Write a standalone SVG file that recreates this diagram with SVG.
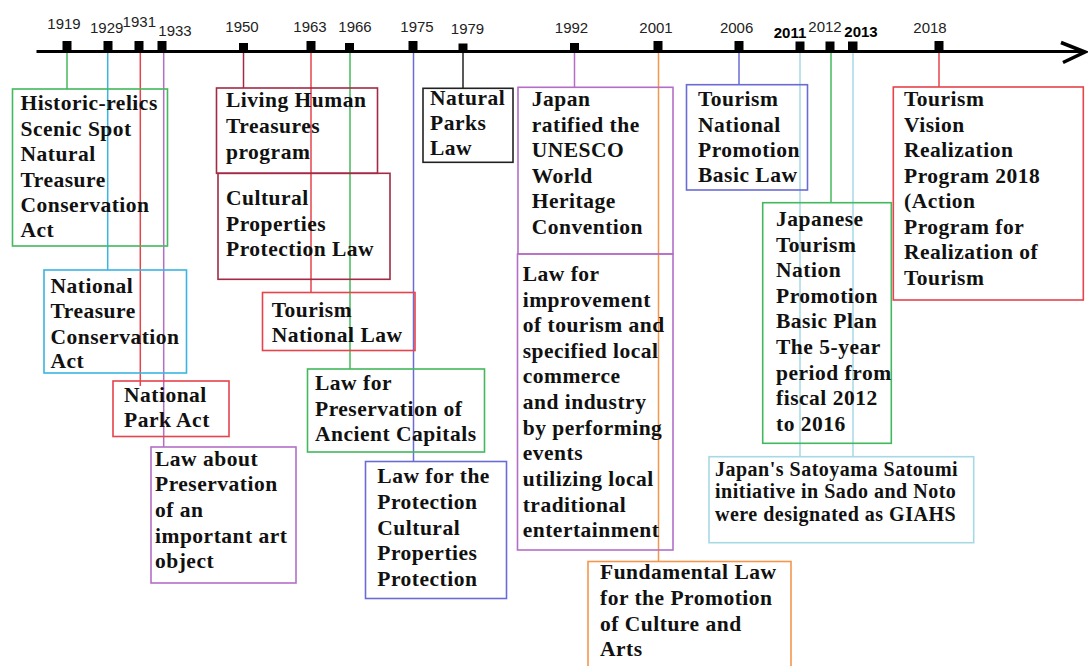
<svg xmlns="http://www.w3.org/2000/svg" width="1088" height="666" viewBox="0 0 1088 666">
<style>
.bg{fill:#fff}
.axis{stroke:#000;stroke-width:3;fill:none}
.tick{fill:#000}
.yr{font-family:"Liberation Sans",Arial,sans-serif;font-size:15px;fill:#222;text-anchor:middle}
.yb{font-weight:bold;fill:#000}
.c{stroke-width:1.5;fill:none}
.box{fill:none;stroke-width:1.6}
.t{font-family:"Liberation Serif","Times New Roman",serif;font-weight:bold;font-size:21.5px;letter-spacing:0.5px;fill:#111}
.ts{font-size:20px}
.green{stroke:#43b85c}
.cyan{stroke:#3ab4e2}
.red{stroke:#e6434b}
.purple{stroke:#b46ec6}
.maroon{stroke:#a32a44}
.blue{stroke:#6b6bd6}
.black{stroke:#222}
.orange{stroke:#f4964c}
.lblue{stroke:#a6d9e4}
</style>
<rect class="bg" x="0" y="0" width="1088" height="666"/>
<g id="connectors">
<line class="c green" x1="67" y1="52" x2="67" y2="89"/>
<line class="c cyan" x1="107.7" y1="52" x2="107.7" y2="270"/>
<line class="c red" x1="140.3" y1="52" x2="140.3" y2="386"/>
<line class="c purple" x1="163.7" y1="52" x2="163.7" y2="447"/>
<line class="c maroon" x1="243.5" y1="52" x2="243.5" y2="88"/>
<line class="c red" x1="311" y1="52" x2="311" y2="292.5"/>
<line class="c green" x1="350" y1="52" x2="350" y2="369"/>
<line class="c blue" x1="413.5" y1="52" x2="413.5" y2="461.5"/>
<line class="c black" x1="463" y1="52" x2="463" y2="88"/>
<line class="c purple" x1="574.5" y1="52" x2="574.5" y2="87"/>
<line class="c orange" x1="658.5" y1="52" x2="658.5" y2="561.5"/>
<line class="c blue" x1="739" y1="52" x2="739" y2="84.7"/>
<line class="c lblue" x1="800" y1="52" x2="800" y2="456.7"/>
<line class="c green" x1="831" y1="52" x2="831" y2="202.7"/>
<line class="c lblue" x1="853" y1="52" x2="853" y2="456.7"/>
<line class="c red" x1="939" y1="52" x2="939" y2="87"/>
</g>
<g id="timeline">
<line class="axis" x1="36.5" y1="51.5" x2="1084" y2="51.5"/>
<polyline class="axis" points="1061,42.5 1085,52 1063,62.5" style="stroke-width:3.5"/>
<rect class="tick" x="62.5" y="41" width="9" height="10"/>
<rect class="tick" x="103.5" y="41" width="9" height="10"/>
<rect class="tick" x="134.5" y="41" width="9" height="10"/>
<rect class="tick" x="157.5" y="41" width="9" height="10"/>
<rect class="tick" x="239" y="43" width="9" height="8"/>
<rect class="tick" x="306.5" y="41" width="9" height="10"/>
<rect class="tick" x="345" y="43" width="9" height="8"/>
<rect class="tick" x="408.5" y="41" width="9" height="10"/>
<rect class="tick" x="458.5" y="43.5" width="9" height="7.5"/>
<rect class="tick" x="570" y="43" width="9" height="8"/>
<rect class="tick" x="653.5" y="41" width="9" height="10"/>
<rect class="tick" x="734.5" y="41" width="9" height="10"/>
<rect class="tick" x="795.5" y="41.5" width="9" height="9.5"/>
<rect class="tick" x="825.5" y="41.5" width="9" height="9.5"/>
<rect class="tick" x="848" y="41.5" width="9.5" height="9.5"/>
<rect class="tick" x="934.5" y="41" width="9" height="10"/>
<text class="yr" x="64" y="28.6">1919</text>
<text class="yr" x="106.7" y="32.7">1929</text>
<text class="yr" x="139.3" y="26.7">1931</text>
<text class="yr" x="175" y="35.5">1933</text>
<text class="yr" x="242" y="32.3">1950</text>
<text class="yr" x="310" y="32.3">1963</text>
<text class="yr" x="355" y="32.3">1966</text>
<text class="yr" x="417" y="32.3">1975</text>
<text class="yr" x="467.5" y="34">1979</text>
<text class="yr" x="571.5" y="33.3">1992</text>
<text class="yr" x="656" y="33.3">2001</text>
<text class="yr" x="736.6" y="33.3">2006</text>
<text class="yr yb" x="790" y="38.3">2011</text>
<text class="yr" x="825" y="31.7">2012</text>
<text class="yr yb" x="861" y="37.3">2013</text>
<text class="yr" x="930" y="33.3">2018</text>
</g>
<g id="n1919">
<rect class="box green" x="12.5" y="89" width="155" height="157"/>
<text class="t"><tspan x="20.5" y="110">Historic-relics</tspan><tspan x="20.5" y="135.5">Scenic Spot</tspan><tspan x="20.5" y="161">Natural</tspan><tspan x="20.5" y="186.5">Treasure</tspan><tspan x="20.5" y="212">Conservation</tspan><tspan x="20.5" y="237">Act</tspan></text>
</g>
<g id="n1929">
<rect class="box cyan" x="44" y="270" width="142.5" height="103"/>
<text class="t"><tspan x="50.5" y="292.7">National</tspan><tspan x="50.5" y="318.3">Treasure</tspan><tspan x="50.5" y="343.5">Conservation</tspan><tspan x="50.5" y="368">Act</tspan></text>
</g>
<g id="n1931">
<rect class="box red" x="113" y="381" width="116" height="55.5"/>
<text class="t"><tspan x="124" y="401.7">National</tspan><tspan x="124" y="426.7">Park Act</tspan></text>
</g>
<g id="n1933">
<rect class="box purple" x="151" y="447" width="145" height="136"/>
<text class="t"><tspan x="155" y="465.7">Law about</tspan><tspan x="155" y="491.3">Preservation</tspan><tspan x="155" y="517">of an</tspan><tspan x="155" y="542.7">important art</tspan><tspan x="155" y="568.3">object</tspan></text>
</g>
<g id="n1950a">
<rect class="box maroon" x="216.5" y="88" width="161" height="85.3"/>
<text class="t"><tspan x="226" y="107.3">Living Human</tspan><tspan x="226" y="133">Treasures</tspan><tspan x="226" y="158.7">program</tspan></text>
</g>
<g id="n1950b">
<rect class="box maroon" x="218" y="173.3" width="172" height="106"/>
<text class="t"><tspan x="226" y="205">Cultural</tspan><tspan x="226" y="230.7">Properties</tspan><tspan x="226" y="256.3">Protection Law</tspan></text>
</g>
<g id="n1963">
<rect class="box red" x="262.5" y="292.5" width="152.5" height="58"/>
<text class="t"><tspan x="271.7" y="316.7">Tourism</tspan><tspan x="271.7" y="341.7">National Law</tspan></text>
</g>
<g id="n1966">
<rect class="box green" x="307.5" y="369" width="177" height="83"/>
<text class="t"><tspan x="315" y="390">Law for</tspan><tspan x="315" y="415.5">Preservation of</tspan><tspan x="315" y="441">Ancient Capitals</tspan></text>
</g>
<g id="n1975">
<rect class="box blue" x="365.5" y="461.5" width="141" height="137"/>
<text class="t"><tspan x="377.3" y="483.3">Law for the</tspan><tspan x="377.3" y="509">Protection</tspan><tspan x="377.3" y="534.6">Cultural</tspan><tspan x="377.3" y="560.2">Properties</tspan><tspan x="377.3" y="585.8">Protection</tspan></text>
</g>
<g id="n1979">
<rect class="box black" x="423" y="88.3" width="90" height="74"/>
<text class="t"><tspan x="430" y="105">Natural</tspan><tspan x="430" y="130">Parks</tspan><tspan x="430" y="155">Law</tspan></text>
</g>
<g id="n1992a">
<rect class="box purple" x="518" y="87.3" width="155" height="166.7"/>
<text class="t"><tspan x="531.7" y="106">Japan</tspan><tspan x="531.7" y="131.7">ratified the</tspan><tspan x="531.7" y="157.3">UNESCO</tspan><tspan x="531.7" y="182.5">World</tspan><tspan x="531.7" y="208.3">Heritage</tspan><tspan x="531.7" y="233.5">Convention</tspan></text>
</g>
<g id="n1992b">
<rect class="box purple" x="517.5" y="254" width="155.5" height="296"/>
<text class="t"><tspan x="522.7" y="281">Law for</tspan><tspan x="522.7" y="306.6">improvement</tspan><tspan x="522.7" y="332.2">of tourism and</tspan><tspan x="522.7" y="357.8">specified local</tspan><tspan x="522.7" y="383.4">commerce</tspan><tspan x="522.7" y="409">and industry</tspan><tspan x="522.7" y="434.8">by performing</tspan><tspan x="522.7" y="460.4">events</tspan><tspan x="522.7" y="486">utilizing local</tspan><tspan x="522.7" y="511.6">traditional</tspan><tspan x="522.7" y="537.2">entertainment</tspan></text>
</g>
<g id="n2001">
<rect class="box orange" x="588" y="561.5" width="203" height="112"/>
<text class="t"><tspan x="600" y="579.3">Fundamental Law</tspan><tspan x="600" y="605">for the Promotion</tspan><tspan x="600" y="630.5">of Culture and</tspan><tspan x="600" y="656">Arts</tspan></text>
</g>
<g id="n2006">
<rect class="box blue" x="686.5" y="84.7" width="121" height="105.3"/>
<text class="t"><tspan x="698" y="106">Tourism</tspan><tspan x="698" y="131.7">National</tspan><tspan x="698" y="157.3">Promotion</tspan><tspan x="698" y="182">Basic Law</tspan></text>
</g>
<g id="n2012">
<rect class="box green" x="762.7" y="202.7" width="128.6" height="240.6"/>
<text class="t"><tspan x="776" y="226">Japanese</tspan><tspan x="776" y="251.6">Tourism</tspan><tspan x="776" y="277.2">Nation</tspan><tspan x="776" y="302.8">Promotion</tspan><tspan x="776" y="328.4">Basic Plan</tspan><tspan x="776" y="354">The 5-year</tspan><tspan x="776" y="379.6">period from</tspan><tspan x="776" y="405.2">fiscal 2012</tspan><tspan x="776" y="430.8">to 2016</tspan></text>
</g>
<g id="n2013">
<rect class="box lblue" x="709" y="456.7" width="264.7" height="86"/>
<text class="t ts"><tspan x="715" y="476">Japan's Satoyama Satoumi</tspan><tspan x="715" y="498.3">initiative in Sado and Noto</tspan><tspan x="715" y="520.7">were designated as GIAHS</tspan></text>
</g>
<g id="n2018">
<rect class="box red" x="893.3" y="87" width="190" height="213"/>
<text class="t"><tspan x="904" y="106">Tourism</tspan><tspan x="904" y="131.5">Vision</tspan><tspan x="904" y="157">Realization</tspan><tspan x="904" y="182.6">Program 2018</tspan><tspan x="904" y="208.2">(Action</tspan><tspan x="904" y="233.8">Program for</tspan><tspan x="904" y="259.4">Realization of</tspan><tspan x="904" y="285">Tourism</tspan></text>
</g>
</svg>
